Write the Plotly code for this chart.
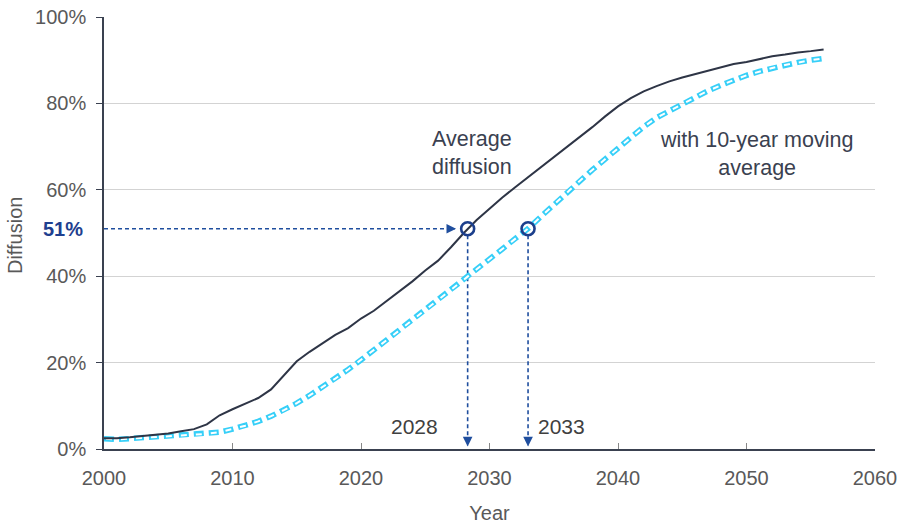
import plotly.graph_objects as go

years = list(range(2000, 2057))
average_diffusion = [
    2.5, 2.5, 2.7, 3.0, 3.2, 3.6, 4.1, 4.6, 5.7, 7.8,
    9.2, 10.5, 11.8, 13.8, 17.0, 20.3, 22.5, 24.5, 26.4, 28.0,
    30.2, 32.0, 34.2, 36.4, 38.8, 41.3, 43.6, 46.7, 50.0, 53.0,
    55.7, 58.2, 60.6, 62.9, 65.1, 67.4, 69.7, 72.0, 74.5, 77.0,
    79.3, 81.2, 82.8, 84.0, 85.1, 86.0, 86.8, 87.6, 88.3, 89.1,
    89.6, 90.3, 90.9, 91.3, 91.8, 92.1, 92.5,
]
moving_average = [
    2.4, 2.2, 2.4, 2.6, 2.8, 2.9, 3.1, 3.3, 3.5, 3.9,
    4.6, 5.4, 6.4, 7.6, 9.0, 10.6, 12.4, 14.3, 16.3, 18.4,
    20.6, 22.9, 25.2, 27.5, 29.8, 32.1, 34.4, 36.8, 39.2, 41.6,
    44.0, 46.3, 48.7, 51.0, 53.8, 56.6, 59.3, 62.0, 64.6, 67.1,
    69.6, 72.3, 74.6, 76.7, 78.3, 79.9, 81.4, 82.9, 84.2, 85.4,
    86.5, 87.4, 88.2, 88.9, 89.5, 90.0, 90.4,
]

threshold = 51
cross_years = [2028.3, 2033.0]
cross_labels = ["2028", "2033"]
x_ticks = [2000, 2010, 2020, 2030, 2040, 2050, 2060]
y_ticks = [0, 20, 40, 60, 80, 100]

FONT = "Liberation Sans, Arial, sans-serif"
GUIDE = "#1f4e9e"
MARK = "#1c3f8c"
DARK = "#2e3546"
CYAN = "#36cff8"
FS = 20
FA = 21.5

fig = go.Figure()

# guide dashed lines
fig.add_trace(go.Scatter(x=[2000, cross_years[0] - 1.0], y=[threshold, threshold], mode="lines",
                         line=dict(color=GUIDE, width=1.6, dash="4px,3px"), hoverinfo="skip", showlegend=False))
for cy in cross_years:
    fig.add_trace(go.Scatter(x=[cy, cy], y=[threshold - 1.5, 0.8], mode="lines",
                             line=dict(color=GUIDE, width=1.6, dash="4px,3px"), hoverinfo="skip", showlegend=False))

# moving average: compound cyan line with white core
fig.add_trace(go.Scatter(x=years, y=moving_average, mode="lines",
                         line=dict(color=CYAN, width=5.5, dash="10px,5px"), hoverinfo="skip", showlegend=False))
fig.add_trace(go.Scatter(x=years, y=moving_average, mode="lines",
                         line=dict(color="white", width=2, dash="0px,2px,6px,7px"), hoverinfo="skip", showlegend=False))

# average diffusion
fig.add_trace(go.Scatter(x=years, y=average_diffusion, mode="lines",
                         line=dict(color=DARK, width=2), showlegend=False))

# crossing markers
fig.add_trace(go.Scatter(x=cross_years, y=[threshold, threshold], mode="markers",
                         marker=dict(symbol="circle-open", size=13, color=MARK, line=dict(width=2.6, color=MARK)),
                         showlegend=False))

annotations = []
annotations.append(dict(x=cross_years[0] - 0.9, y=threshold, xref="x", yref="y", ax=-10, ay=0,
                        text="", showarrow=True, arrowhead=2, arrowsize=1.2, arrowwidth=1.6, arrowcolor=GUIDE))
for cy in cross_years:
    annotations.append(dict(x=cy, y=0.6, xref="x", yref="y", ax=0, ay=-10,
                            text="", showarrow=True, arrowhead=2, arrowsize=1.2, arrowwidth=1.6, arrowcolor=GUIDE))

annotations.append(dict(x=2024.2, y=5.1, xref="x", yref="y", text=cross_labels[0], showarrow=False,
                        font=dict(family=FONT, size=21, color="#404040")))
annotations.append(dict(x=2035.6, y=5.1, xref="x", yref="y", text=cross_labels[1], showarrow=False,
                        font=dict(family=FONT, size=21, color="#404040")))
annotations.append(dict(x=-0.0535, y=threshold, xref="paper", yref="y", xanchor="center", text="<b>51%</b>",
                        showarrow=False, font=dict(family=FONT, size=FS, color="#1f3f8f")))
annotations.append(dict(x=2028.6, y=68.5, xref="x", yref="y", text="Average<br>diffusion", showarrow=False,
                        font=dict(family=FONT, size=FA, color="#3a4150")))
annotations.append(dict(x=2050.8, y=68.2, xref="x", yref="y", text="with 10-year moving<br>average", showarrow=False,
                        font=dict(family=FONT, size=FA, color="#3a4150")))
# y axis title as rotated text
annotations.append(dict(x=-0.1154, y=0.493, xref="paper", yref="paper", xanchor="center", yanchor="middle",
                        text="Diffusion", textangle=-90, showarrow=False,
                        font=dict(family=FONT, size=FS, color="#595959")))

fig.update_layout(
    width=901, height=524,
    margin=dict(l=104, r=26, t=17, b=75),
    paper_bgcolor="white", plot_bgcolor="white",
    font=dict(family=FONT, size=FS, color="#595959"),
    annotations=annotations,
    xaxis=dict(range=[2000, 2060], tickvals=x_ticks, ticktext=[str(v) for v in x_ticks],
               showgrid=False, zeroline=False, showline=True, linecolor="#3a4150", linewidth=1.5,
               ticks="inside", ticklen=6, tickcolor="#888888", ticklabelstandoff=10, automargin=False,
               title=dict(text="Year", standoff=18, font=dict(family=FONT, size=FS, color="#595959")),
               tickfont=dict(family=FONT, size=FS, color="#595959")),
    yaxis=dict(range=[0, 100], tickvals=y_ticks, ticktext=[f"{v}%" for v in y_ticks],
               showgrid=True, gridcolor="#d3d3d3", gridwidth=1, zeroline=False,
               showline=True, linecolor="#3a4150", linewidth=1.5, automargin=False,
               ticks="outside", ticklen=6, tickcolor="#3a4150", ticklabelstandoff=6,
               tickfont=dict(family=FONT, size=FS, color="#595959")),
)

fig.write_html("out.html", config={"displayModeBar": False},
               post_script="document.body.style.margin='0px';document.body.style.overflow='hidden';")
